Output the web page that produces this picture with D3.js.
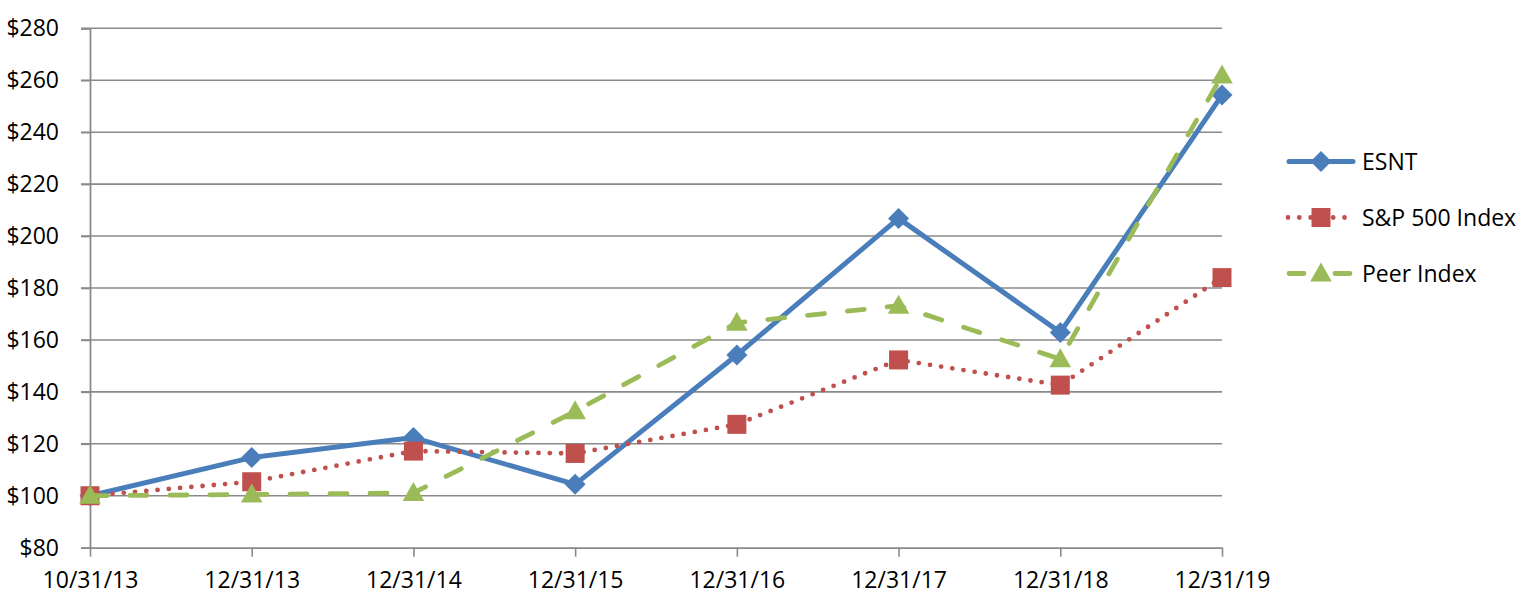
<!DOCTYPE html>
<html>
<head>
<meta charset="utf-8">
<script src="https://cdn.jsdelivr.net/npm/d3@7"></script>
<style>
  html, body { margin: 0; padding: 0; background: #fff; }
  svg { display: block; }
  text { font-family: "Open Sans", "Noto Sans", sans-serif; fill: #000; }
</style>
</head>
<body>
<svg id="chart" width="1522" height="605"></svg>
<script>
const categories = ["10/31/13", "12/31/13", "12/31/14", "12/31/15", "12/31/16", "12/31/17", "12/31/18", "12/31/19"];
const esnt = [100, 114.7, 122.4, 104.4, 154.2, 206.8, 162.9, 254.3];
const sp500 = [100, 105.4, 117.2, 116.3, 127.5, 152.3, 142.6, 184.0];
const peer = [100, 100.5, 101.1, 132.5, 166.6, 173.2, 152.6, 261.8];
const yTicks = [80, 100, 120, 140, 160, 180, 200, 220, 240, 260, 280];
const seriesNames = ["ESNT", "S&P 500 Index", "Peer Index"];

const svg = d3.select("#chart");
const x = d3.scalePoint().domain(categories).range([90, 1222]).padding(0);
const y = d3.scaleLinear().domain([80, 280]).range([547.7, 28.3]);

const gridColor = "#8a8a8a";

// gridlines
svg.append("g").selectAll("line").data(yTicks.filter(d => d > 80)).join("line")
  .attr("x1", 81).attr("x2", 1222)
  .attr("y1", d => y(d)).attr("y2", d => y(d))
  .attr("stroke", gridColor).attr("stroke-width", 1.6);

// y axis
const yAxis = svg.append("g").attr("transform", "translate(90,0)")
  .call(d3.axisLeft(y).tickValues(yTicks).tickSize(9).tickPadding(22).tickFormat(d => "$" + d));
yAxis.select(".domain").attr("stroke", gridColor).attr("stroke-width", 1.8);
yAxis.selectAll(".tick line").attr("stroke", gridColor).attr("stroke-width", 1.6);
yAxis.selectAll("text").attr("font-size", 23).attr("font-family", "Open Sans").attr("fill", "#000");

// x axis
const xAxis = svg.append("g").attr("transform", `translate(0,${y(80)})`)
  .call(d3.axisBottom(x).tickSize(9).tickPadding(15).tickSizeOuter(0));
xAxis.select(".domain").attr("stroke", gridColor).attr("stroke-width", 1.8);
xAxis.selectAll(".tick line").attr("stroke", gridColor).attr("stroke-width", 1.6);
xAxis.selectAll("text").attr("font-size", 23).attr("font-family", "Open Sans").attr("fill", "#000");

const colors = ["#4a7ebb", "#c0504d", "#9bbb59"];
const dashes = [null, "0 11.3", "17 23"];
const shapes = ["diamond", "square", "triangle"];
const data = [esnt, sp500, peer];

function markerPath(shape) {
  if (shape === "diamond") return "M0,-10.5L10.5,0L0,10.5L-10.5,0Z";
  if (shape === "square") return "M-9.5,-9.5H9.5V9.5H-9.5Z";
  return "M0,-11L10.8,8H-10.8Z";
}

const line = d3.line().x((d, i) => x(categories[i])).y(d => y(d));

data.forEach((vals, s) => {
  const g = svg.append("g");
  g.append("path").attr("d", line(vals))
    .attr("fill", "none").attr("stroke", colors[s])
    .attr("stroke-width", s === 0 ? 5 : 4.8)
    .attr("stroke-linecap", "round").attr("stroke-linejoin", "round")
    .attr("stroke-dasharray", dashes[s]);
  g.selectAll("path.m").data(vals).join("path").attr("class", "m")
    .attr("d", markerPath(shapes[s]))
    .attr("transform", (d, i) => `translate(${x(categories[i])},${y(d)})`)
    .attr("fill", colors[s]);
});

// legend
const legendY = [161.5, 217.5, 273.5];
seriesNames.forEach((name, s) => {
  const g = svg.append("g").attr("transform", `translate(0,${legendY[s]})`);
  g.append("line").attr("x1", s === 1 ? 1288 : 1289).attr("x2", s === 1 ? 1347 : 1353)
    .attr("stroke", colors[s]).attr("stroke-width", s === 0 ? 5 : 4.8)
    .attr("stroke-linecap", "round").attr("stroke-dasharray", s === 2 ? "15 31" : dashes[s]);
  g.append("path").attr("d", markerPath(shapes[s]))
    .attr("transform", "translate(1321,0)").attr("fill", colors[s]);
  g.append("text").attr("x", 1362).attr("dy", "0.35em")
    .attr("font-size", 23).text(name);
});
</script>
</body>
</html>
